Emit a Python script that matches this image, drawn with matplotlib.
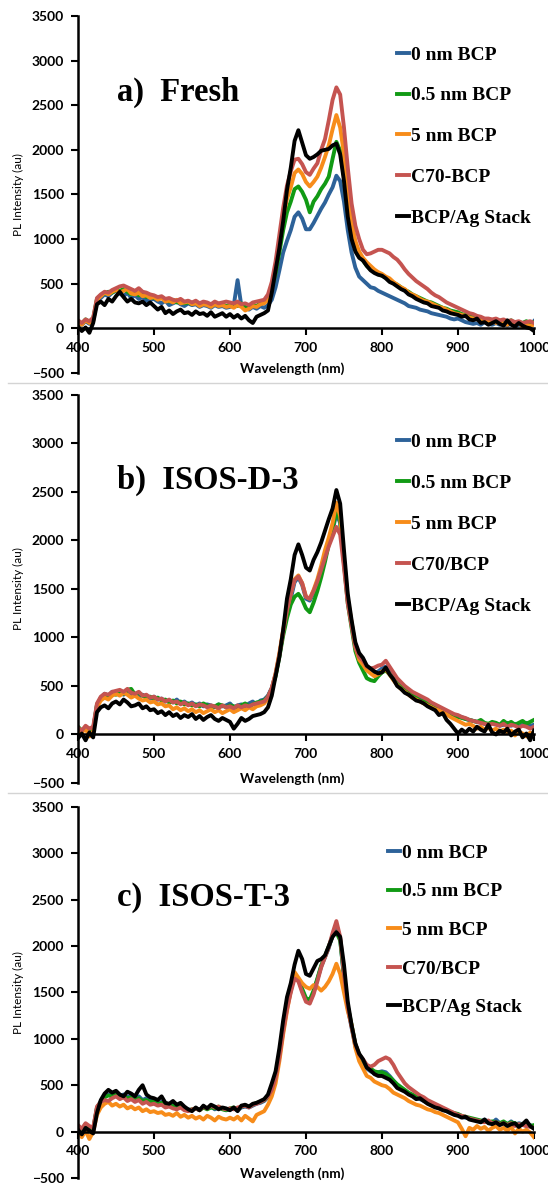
import numpy as np
import matplotlib
matplotlib.use("Agg")  # no display
import matplotlib.pyplot as plt
from matplotlib.lines import Line2D

# ─────────────────────────────────────────────
# 1. DATA  (PL spectra, 5 nm grid)
# ─────────────────────────────────────────────
wavelength = np.arange(400, 1001, 5)

# a) Fresh
fresh_0nm = [60, 40, 80, 50, 90, 310, 340, 380, 360, 400,
             420, 390, 360, 400, 340, 370, 330, 350, 310, 320,
             330, 300, 280, 310, 260, 280, 300, 270, 250, 280,
             260, 270, 240, 260, 250, 230, 260, 240, 250, 230,
             240, 260, 540, 250, 230, 210, 240, 220, 250, 230,
             260, 320, 460, 650, 850, 980, 1100, 1250, 1300, 1230,
             1110, 1110, 1180, 1260, 1340, 1410, 1500, 1580, 1710, 1650,
             1420, 1100, 850, 680, 580, 540, 500, 460, 450, 420,
             400, 380, 360, 340, 320, 300, 280, 250, 240, 230,
             210, 200, 190, 170, 160, 150, 140, 130, 110, 100,
             110, 90, 70, 60, 50, 60, 40, 70, 50, 40,
             60, 40, 50, 30, 60, 20, 40, 30, 50, 20,
             80]
fresh_05nm = [80, 50, 100, 70, 110, 330, 370, 390, 410, 400,
              430, 420, 440, 410, 380, 400, 370, 390, 350, 360,
              340, 330, 350, 310, 300, 320, 290, 300, 280, 290,
              270, 290, 260, 280, 270, 250, 280, 260, 270, 250,
              260, 270, 250, 280, 240, 230, 260, 250, 280, 290,
              330, 450, 620, 850, 1100, 1300, 1420, 1560, 1590, 1530,
              1440, 1300, 1420, 1480, 1560, 1620, 1700, 1900, 2090, 1990,
              1700, 1300, 1080, 920, 820, 760, 700, 660, 640, 610,
              590, 570, 540, 510, 490, 460, 430, 410, 380, 360,
              340, 320, 300, 290, 270, 250, 230, 220, 200, 190,
              180, 160, 150, 140, 130, 110, 120, 100, 90, 80,
              100, 70, 80, 60, 90, 50, 70, 60, 80, 50,
              70]
fresh_5nm = [70, 40, 90, 60, 80, 320, 360, 400, 380, 410,
             430, 400, 420, 440, 390, 380, 400, 360, 370, 340,
             350, 320, 340, 300, 310, 290, 320, 280, 290, 300,
             270, 280, 250, 270, 260, 240, 270, 250, 260, 240,
             250, 230, 260, 240, 200, 220, 250, 240, 270, 280,
             320, 460, 680, 950, 1250, 1450, 1580, 1740, 1780, 1730,
             1640, 1590, 1640, 1700, 1800, 1920, 2050, 2230, 2390, 2250,
             1950, 1500, 1200, 980, 860, 790, 740, 700, 660, 630,
             610, 580, 560, 520, 490, 460, 440, 400, 380, 360,
             330, 310, 300, 280, 260, 240, 230, 210, 190, 170,
             160, 150, 140, 120, 110, 100, 90, 80, 70, 90,
             60, 80, 50, 40, 70, 30, 60, 20, 40, 30,
             40]
fresh_c70 = [90, 60, 100, 80, 120, 340, 380, 410, 400, 430,
             450, 470, 480, 460, 440, 420, 450, 410, 400, 380,
             370, 350, 360, 330, 340, 320, 310, 330, 300, 310,
             290, 310, 280, 300, 290, 270, 300, 280, 290, 300,
             290, 280, 300, 270, 280, 260, 290, 300, 310, 320,
             380, 520, 750, 1050, 1350, 1600, 1760, 1890, 1900, 1840,
             1750, 1720, 1790, 1850, 2000, 2120, 2330, 2560, 2700, 2620,
             2250, 1800, 1400, 1150, 1000, 880, 830, 840, 860, 880,
             880, 860, 840, 800, 770, 720, 660, 610, 570, 530,
             500, 470, 440, 400, 370, 350, 320, 290, 270, 250,
             230, 210, 190, 170, 160, 140, 130, 110, 110, 100,
             110, 90, 100, 80, 90, 70, 80, 60, 70, 80,
             60]
fresh_stack = [20, -30, 10, -50, 60, 270, 300, 260, 330, 300,
               360, 410, 350, 300, 330, 290, 280, 300, 260, 290,
               250, 210, 240, 170, 200, 160, 190, 210, 170, 180,
               150, 190, 160, 170, 140, 180, 130, 150, 170, 130,
               160, 120, 150, 110, 140, 90, 60, 130, 150, 170,
               200, 400, 650, 900, 1200, 1550, 1800, 2100, 2220, 2080,
               1940, 1900, 1920, 1950, 1990, 2000, 2010, 2050, 2070, 1950,
               1650, 1250, 1000, 860, 790, 760, 700, 650, 620, 600,
               590, 560, 520, 500, 470, 440, 420, 380, 360, 330,
               310, 290, 280, 250, 240, 230, 200, 190, 170, 160,
               150, 130, 140, 100, 90, 110, 60, 70, 40, 60,
               80, 50, 30, 90, 40, 20, 60, 30, 10, 0,
               -30]

# b) ISOS-D-3
d3_0nm = [60, 30, 80, 40, 60, 300, 380, 420, 400, 440,
          430, 450, 410, 440, 400, 420, 390, 410, 380, 370,
          390, 360, 370, 340, 350, 330, 360, 320, 340, 310,
          330, 300, 320, 290, 310, 300, 280, 310, 290, 300,
          320, 280, 300, 310, 290, 320, 340, 300, 350, 360,
          400, 480, 620, 820, 1050, 1250, 1400, 1570, 1620, 1540,
          1400, 1380, 1460, 1560, 1680, 1820, 1980, 2100, 2280, 2180,
          1780, 1380, 1150, 900, 790, 740, 680, 640, 620, 650,
          680, 700, 650, 600, 540, 500, 470, 440, 410, 390,
          370, 350, 330, 300, 290, 270, 250, 230, 210, 200,
          190, 180, 160, 150, 140, 130, 120, 110, 100, 120,
          110, 90, 100, 120, 90, 110, 80, 100, 120, 90,
          100]
d3_05nm = [80, 40, 70, 60, 50, 310, 370, 400, 380, 420,
           410, 440, 420, 460, 470, 410, 430, 400, 380, 390,
           370, 380, 350, 360, 330, 350, 320, 340, 310, 320,
           300, 310, 290, 320, 300, 280, 290, 310, 300, 280,
           300, 290, 270, 300, 320, 290, 310, 330, 340, 350,
           390, 470, 600, 800, 1020, 1200, 1340, 1420, 1450, 1390,
           1300, 1260, 1360, 1480, 1620, 1780, 1960, 2120, 2310, 2200,
           1760, 1350, 1100, 860, 740, 660, 580, 560, 550, 600,
           640, 660, 620, 570, 520, 490, 450, 430, 400, 380,
           350, 340, 320, 300, 280, 260, 250, 230, 210, 200,
           180, 170, 160, 150, 140, 130, 150, 120, 110, 130,
           120, 100, 140, 110, 130, 100, 120, 140, 110, 130,
           150]
d3_5nm = [50, 20, 60, -20, 30, 280, 350, 380, 360, 400,
          420, 400, 430, 410, 380, 400, 370, 350, 360, 330,
          340, 310, 320, 290, 300, 260, 280, 250, 270, 240,
          260, 230, 250, 220, 240, 260, 230, 250, 220, 240,
          260, 230, 250, 270, 250, 280, 260, 290, 300, 320,
          370, 470, 630, 840, 1080, 1300, 1450, 1600, 1640, 1560,
          1420, 1400, 1490, 1600, 1740, 1900, 2030, 2180, 2390, 2250,
          1800, 1400, 1160, 900, 770, 720, 660, 630, 600, 620,
          650, 670, 620, 560, 510, 470, 440, 410, 380, 360,
          340, 320, 300, 280, 260, 250, 230, 210, 180, 160,
          140, 120, 100, 110, 90, 60, 80, 50, 70, 40,
          60, 30, 50, 20, 40, -10, 30, 10, -20, 20,
          0]
d3_c70 = [70, 40, 90, 60, 80, 320, 390, 420, 410, 440,
          450, 460, 440, 470, 430, 420, 440, 400, 410, 380,
          390, 360, 370, 340, 360, 330, 340, 310, 330, 300,
          320, 290, 310, 300, 280, 300, 290, 270, 300, 280,
          290, 270, 300, 280, 300, 290, 310, 320, 330, 340,
          390, 480, 620, 820, 1060, 1280, 1450, 1590, 1630, 1560,
          1420, 1400, 1480, 1580, 1700, 1820, 1940, 2040, 2140, 2060,
          1720, 1350, 1120, 900, 800, 760, 700, 680, 690, 710,
          720, 760, 700, 640, 580, 540, 500, 470, 440, 420,
          400, 380, 360, 330, 310, 290, 270, 250, 230, 210,
          200, 180, 170, 150, 140, 130, 120, 110, 100, 110,
          100, 90, 110, 80, 100, 90, 70, 90, 80, 60,
          80]
d3_stack = [-40, 10, -60, 20, -30, 230, 280, 300, 270, 320,
            340, 310, 360, 330, 290, 300, 320, 270, 290, 250,
            260, 220, 240, 200, 230, 190, 210, 170, 200, 180,
            210, 160, 190, 150, 180, 200, 160, 140, 170, 150,
            130, 60, 110, 170, 140, 160, 190, 200, 210, 230,
            280, 400, 600, 800, 1080, 1400, 1600, 1850, 1960, 1850,
            1720, 1690, 1800, 1880, 1980, 2100, 2220, 2330, 2520, 2380,
            1900, 1450, 1180, 950, 840, 790, 710, 680, 650, 630,
            640, 690, 620, 570, 500, 470, 430, 410, 380, 350,
            340, 320, 290, 270, 250, 200, 220, 150, 110, 60,
            10, 50, 20, 60, 30, 80, 50, 30, 100, 20,
            0, 40, 20, 60, -10, 30, 50, -30, 10, -60,
            40]

# c) ISOS-T-3
t3_0nm = [50, 10, 70, 30, 20, 250, 330, 380, 400, 390,
          410, 380, 400, 370, 390, 360, 380, 340, 360, 330,
          340, 310, 320, 300, 280, 290, 270, 280, 250, 240,
          230, 250, 240, 260, 250, 270, 240, 260, 250, 230,
          240, 250, 230, 260, 270, 260, 280, 300, 310, 330,
          370, 450, 600, 820, 1100, 1350, 1520, 1690, 1640, 1520,
          1420, 1400, 1500, 1640, 1780, 1880, 1980, 2120, 2230, 2080,
          1650, 1330, 1120, 920, 800, 750, 680, 650, 630, 640,
          650, 640, 600, 550, 500, 460, 440, 410, 390, 360,
          350, 330, 310, 290, 270, 250, 240, 220, 200, 190,
          180, 160, 150, 140, 130, 120, 110, 130, 100, 90,
          130, 90, 100, 80, 110, 70, 90, 80, 60, 70,
          50]
t3_05nm = [60, 20, 80, 40, 30, 260, 320, 370, 390, 380,
           400, 390, 380, 360, 370, 350, 360, 330, 340, 320,
           330, 300, 310, 290, 280, 280, 260, 270, 250, 230,
           240, 250, 230, 260, 240, 260, 250, 270, 240, 230,
           250, 260, 240, 270, 280, 270, 290, 310, 320, 340,
           380, 460, 610, 830, 1110, 1360, 1540, 1680, 1650, 1540,
           1440, 1420, 1520, 1650, 1790, 1890, 2000, 2110, 2150, 2060,
           1680, 1350, 1150, 940, 830, 770, 700, 680, 650, 640,
           640, 620, 590, 550, 510, 480, 450, 420, 400, 380,
           360, 340, 320, 300, 290, 270, 250, 230, 210, 200,
           190, 170, 160, 150, 140, 130, 120, 110, 100, 110,
           100, 90, 110, 80, 100, 90, 70, 80, 100, 60,
           70]
t3_5nm = [30, -60, 10, -80, 0, 180, 260, 300, 320, 280,
          300, 270, 290, 250, 270, 240, 260, 220, 240, 210,
          220, 200, 210, 180, 190, 170, 200, 160, 180, 150,
          170, 140, 160, 130, 170, 150, 120, 160, 140, 130,
          150, 130, 160, 120, 170, 140, 110, 180, 200, 220,
          290, 380, 520, 760, 1050, 1300, 1520, 1720, 1660, 1600,
          1560, 1540, 1580, 1560, 1520, 1560, 1620, 1700, 1810, 1700,
          1500, 1300, 1150, 900, 760, 680, 600, 580, 540, 520,
          500, 490, 460, 420, 400, 380, 360, 330, 310, 290,
          280, 260, 240, 230, 210, 200, 180, 160, 140, 120,
          100, 30, -50, 40, 20, 60, 30, 50, 10, 40,
          60, 20, 40, 10, 50, -20, 30, 0, 20, -10,
          -60]
t3_c70 = [70, 30, 90, 60, 40, 270, 320, 340, 330, 360,
          380, 350, 370, 330, 350, 320, 340, 300, 320, 290,
          300, 280, 290, 260, 270, 250, 240, 260, 230, 220,
          240, 250, 230, 270, 250, 280, 260, 270, 250, 240,
          250, 240, 260, 270, 280, 260, 290, 300, 320, 340,
          380, 450, 580, 800, 1080, 1320, 1500, 1650, 1620, 1500,
          1400, 1380, 1480, 1620, 1770, 1880, 1990, 2140, 2270, 2100,
          1700, 1350, 1130, 940, 830, 780, 720, 700, 720, 760,
          780, 800, 780, 720, 640, 580, 520, 480, 450, 420,
          390, 370, 340, 320, 300, 280, 260, 240, 220, 200,
          180, 170, 160, 140, 130, 120, 110, 100, 120, 90,
          100, 80, 90, 70, 90, 60, 80, 70, 60, 50,
          40]
t3_stack = [20, -30, 40, 10, -20, 200, 340, 410, 450, 420,
            440, 400, 380, 430, 410, 380, 450, 500, 400, 370,
            360, 340, 380, 310, 300, 330, 290, 310, 270, 240,
            220, 260, 230, 280, 250, 290, 270, 240, 260, 250,
            230, 260, 220, 280, 290, 270, 300, 310, 330, 350,
            400, 520, 650, 900, 1200, 1450, 1600, 1800, 1950, 1860,
            1700, 1680, 1760, 1840, 1860, 1900, 2000, 2100, 2150, 2100,
            1800, 1400, 1150, 950, 840, 780, 690, 660, 620, 600,
            600, 580, 560, 520, 470, 450, 430, 400, 380, 350,
            360, 330, 300, 280, 260, 250, 230, 220, 200, 180,
            170, 150, 160, 130, 120, 110, 100, 130, 90, 80,
            100, 70, 90, 60, 80, 90, 50, 80, 120, 60,
            30]

labels_a = ["0 nm BCP", "0.5 nm BCP", "5 nm BCP", "C70-BCP", "BCP/Ag Stack"]
labels_bc = ["0 nm BCP", "0.5 nm BCP", "5 nm BCP", "C70/BCP", "BCP/Ag Stack"]
colors = ["#2D6299", "#119A14", "#F78C1A", "#C55450", "#000000"]

# ─────────────────────────────────────────────
# 2. FIGURE
# ─────────────────────────────────────────────
plt.rcParams["font.family"] = ["Lato", "DejaVu Sans"]
plt.rcParams["font.weight"] = "bold"
SERIF = ["Liberation Serif", "DejaVu Serif"]

fig = plt.figure(figsize=(5.48, 11.84), dpi=100)

panels = [
    # title, series, labels, axes rect, title y, legend anchor, label spacing
    ("a)  Fresh", [fresh_0nm, fresh_05nm, fresh_5nm, fresh_c70, fresh_stack],
     labels_a, [0.1423, 0.6850, 0.8321, 0.3015], 0.787, (0.70, 0.916), 1.19),
    ("b)  ISOS-D-3", [d3_0nm, d3_05nm, d3_5nm, d3_c70, d3_stack],
     labels_bc, [0.1423, 0.3387, 0.8321, 0.3277], 0.781, (0.70, 0.902), 1.21),
    ("c)  ISOS-T-3", [t3_0nm, t3_05nm, t3_5nm, t3_c70, t3_stack],
     labels_bc, [0.1423, 0.0051, 0.8321, 0.3133], 0.757, (0.68, 0.90), 1.08),
]

for title, series, labels, rect, title_y, leg_anchor, spacing in panels:
    ax = fig.add_axes(rect)
    for y, c, lab in zip(series, colors, labels):
        ax.plot(wavelength, y, color=c, lw=2.8, label=lab)

    ax.set_xlim(400, 1000)
    ax.set_ylim(-500, 3500)
    ax.set_xticks(range(400, 1001, 100))
    ax.set_yticks(range(-500, 3501, 500))

    # Excel-style axes: x axis crosses at zero
    ax.spines["top"].set_visible(False)
    ax.spines["right"].set_visible(False)
    ax.spines["bottom"].set_position(("data", 0))
    ax.spines["bottom"].set_linewidth(1.8)
    ax.spines["left"].set_linewidth(1.8)
    ax.tick_params(axis="both", direction="out", length=5, width=1.5,
                   labelsize=10)
    ax.tick_params(axis="x", pad=5)
    ax.tick_params(axis="y", pad=5)

    ax.set_ylabel("PL Intensity (au)", fontsize=8.5)
    ax.yaxis.set_label_coords(-0.118, 0.5)
    ax.text(0.47, 0.012, "Wavelength (nm)", transform=ax.transAxes,
            ha="center", va="center", fontsize=9.8)

    ax.text(0.085, title_y, title, transform=ax.transAxes, ha="left",
            va="center", family=SERIF, weight="bold", fontsize=23.5)

    ax.legend(loc="upper left", bbox_to_anchor=leg_anchor, frameon=False,
              handlelength=0.6, handletextpad=0.1, labelspacing=spacing,
              borderaxespad=0, borderpad=0,
              prop={"family": SERIF, "weight": "bold", "size": 14})

# thin grey separators between the panels
for ypix in (383.5, 793):
    fig.add_artist(Line2D([8 / 548, 1], [1 - ypix / 1184] * 2,
                          transform=fig.transFigure, color="#D4D4D4", lw=1))

fig.savefig("out.png", dpi=100)
print("Saved: out.png")
